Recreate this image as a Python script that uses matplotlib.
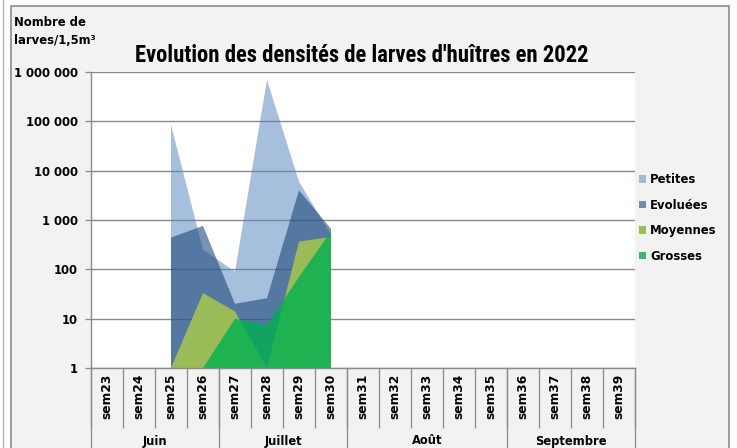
import numpy as np
import matplotlib
matplotlib.use('Agg')
import matplotlib.pyplot as plt
from matplotlib import font_manager
from matplotlib.patches import Rectangle, Patch
from matplotlib.lines import Line2D
from matplotlib.ticker import NullLocator

# ---------------- data ----------------
weeks = ['sem23', 'sem24', 'sem25', 'sem26', 'sem27', 'sem28', 'sem29', 'sem30',
         'sem31', 'sem32', 'sem33', 'sem34', 'sem35', 'sem36', 'sem37', 'sem38', 'sem39']
months = ['Juin', 'Juillet', 'Août', 'Septembre']
month_weeks = [4, 4, 5, 4]
nan = np.nan
petites = [nan, nan, 85000, 250, 90, 690000, 6000, 500, nan, nan, nan, nan, nan, nan, nan, nan, nan]
evoluees = [nan, nan, 440, 760, 20, 26, 4000, 660, nan, nan, nan, nan, nan, nan, nan, nan, nan]
moyennes = [nan, nan, 1, 33, 14, 1, 365, 455, nan, nan, nan, nan, nan, nan, nan, nan, nan]
grosses = [nan, nan, 1, 1, 10, 7.5, 70, 590, nan, nan, nan, nan, nan, nan, nan, nan, nan]
series_names = ['Petites', 'Evoluées', 'Moyennes', 'Grosses']
ytick_values = [1, 10, 100, 1000, 10000, 100000, 1000000]
ytick_labels = ['1', '10', '100', '1 000', '10 000', '100 000', '1 000 000']
title = "Evolution des densités de larves d'huîtres en 2022"
ylabel_lines = ['Nombre de', 'larves/1,5m³']

# ---------------- styles ----------------
colors = ['#4F81BD', '#1F497D', '#9BBB59', '#00B050']
alphas = [0.5, 0.6, 1.0, 0.8]
gridc = '#8a8a8a'


def pick(cands):
    names = {f.name for f in font_manager.fontManager.ttflist}
    for c in cands:
        if c in names:
            return c
    return 'DejaVu Sans'


narrow = pick(['Liberation Sans Narrow', 'Roboto Condensed', 'Liberation Sans'])

W, H = 737, 448
fig = plt.figure(figsize=(W / 100, H / 100), dpi=100)
fig.patch.set_facecolor('white')


def fx(px):
    return px / W


def fy(py):
    return 1 - py / H


# chart background box
fig.add_artist(Rectangle((fx(11), -0.05), fx(729) - fx(11), fy(6) + 0.05,
                         transform=fig.transFigure, facecolor='#f2f2f2',
                         edgecolor='#8c8c8c', lw=1.2, zorder=-10))
fig.add_artist(Line2D([fx(3), fx(3)], [0, 1], transform=fig.transFigure,
                      color='#b4b4b4', lw=1.0, zorder=-10))

left, right, top, bottom = 91, 635, 72, 368
ax = fig.add_axes([fx(left), fy(bottom), fx(right) - fx(left), (bottom - top) / H])
ax.set_facecolor('white')
ax.set_yscale('log')
ax.set_ylim(1, 1e6)
ax.set_xlim(0, len(weeks))

x = np.arange(len(weeks)) + 0.5
for vals, c, a in zip([petites, evoluees, moyennes, grosses], colors, alphas):
    v = np.array(vals, dtype=float)
    ax.fill_between(x, 1, v, facecolor=c, alpha=a, lw=0, zorder=2)

ax.set_yticks(ytick_values)
ax.set_yticklabels(ytick_labels)
ax.yaxis.set_minor_locator(NullLocator())
ax.yaxis.grid(True, color=gridc, lw=1.0)
ax.set_axisbelow(True)
ax.tick_params(axis='y', length=4.3, width=0.9, color=gridc, pad=5,
               labelsize=8.4, labelcolor='black')
for lbl in ax.get_yticklabels():
    lbl.set_fontweight('bold')

for s in ['top', 'right']:
    ax.spines[s].set_visible(False)
for s in ['left', 'bottom']:
    ax.spines[s].set_color(gridc)
    ax.spines[s].set_linewidth(1.0)

ax.set_xticks(x)
ax.set_xticklabels(weeks, rotation=90, fontsize=8.8, fontweight='bold')
ax.set_xticks(np.arange(len(weeks) + 1), minor=True)
ax.tick_params(axis='x', which='major', length=0, pad=4)
ax.tick_params(axis='x', which='minor', length=43, width=0.9, color=gridc)

# month separators and labels
tr = ax.get_xaxis_transform()
axh = bottom - top
bounds = np.concatenate([[0], np.cumsum(month_weeks)])
for b in bounds:
    ax.add_line(Line2D([b, b], [0, -(H - bottom + 5) / axh], transform=tr,
                       color=gridc, lw=0.9, clip_on=False))
for i, m in enumerate(months):
    cx = (bounds[i] + bounds[i + 1]) / 2
    ax.text(cx, -(441 - bottom) / axh, m, transform=tr, ha='center', va='center',
            fontsize=8.3, fontweight='bold')

renderer = fig.canvas.get_renderer()

# title
t = fig.text(fx(361.5), fy(55), title, ha='center', va='center', fontsize=13,
             family=narrow, fontweight='bold')
bw = t.get_window_extent(renderer).width
t.set_fontsize(13 * 453 / bw)

# y axis title
t1 = fig.text(fx(14), fy(22.3), ylabel_lines[0], ha='left', va='center', fontsize=8,
              fontweight='bold')
bw1 = t1.get_window_extent(renderer).width
fs1 = 8 * 72 / bw1
t1.set_fontsize(fs1)
fig.text(fx(14), fy(40.7), ylabel_lines[1], ha='left', va='center', fontsize=fs1,
         fontweight='bold')

# legend
handles = [Patch(facecolor=c, alpha=a, label=n, lw=0) for c, a, n in zip(colors, alphas, series_names)]
fig.legend(handles=handles, loc='upper left', bbox_to_anchor=(fx(639), fy(173)),
           frameon=False, prop={'weight': 'bold', 'size': 8.4},
           handlelength=0.6, handleheight=0.6, handletextpad=0.35,
           labelspacing=1.08, borderpad=0, borderaxespad=0)

fig.savefig('out.png', dpi=100, facecolor=fig.get_facecolor())
